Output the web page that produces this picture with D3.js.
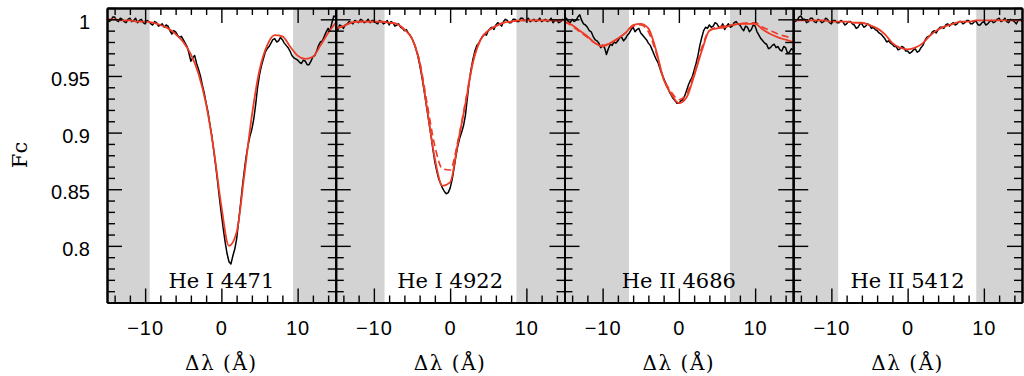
<!DOCTYPE html>
<html>
<head>
<meta charset="utf-8">
<script src="https://cdn.jsdelivr.net/npm/d3@7"></script>
<style>
  html, body { margin: 0; padding: 0; background: #fff; }
  svg { display: block; }
</style>
</head>
<body>
<svg id="chart" width="1024" height="376"></svg>
<script>
// ---------------- DATA ----------------
const panelNames = ["He I 4471", "He I 4922", "He II 4686", "He II 5412"];

// observed grid: -15 .. 15 step 0.25 Å
const obsGrid = [
  -15,-14.75,-14.5,-14.25,-14,-13.75,-13.5,-13.25,-13,-12.75,
  -12.5,-12.25,-12,-11.75,-11.5,-11.25,-11,-10.75,-10.5,-10.25,
  -10,-9.75,-9.5,-9.25,-9,-8.75,-8.5,-8.25,-8,-7.75,
  -7.5,-7.25,-7,-6.75,-6.5,-6.25,-6,-5.75,-5.5,-5.25,
  -5,-4.75,-4.5,-4.25,-4,-3.75,-3.5,-3.25,-3,-2.75,
  -2.5,-2.25,-2,-1.75,-1.5,-1.25,-1,-0.75,-0.5,-0.25,
  0,0.25,0.5,0.75,1,1.25,1.5,1.75,2,2.25,
  2.5,2.75,3,3.25,3.5,3.75,4,4.25,4.5,4.75,
  5,5.25,5.5,5.75,6,6.25,6.5,6.75,7,7.25,
  7.5,7.75,8,8.25,8.5,8.75,9,9.25,9.5,9.75,
  10,10.25,10.5,10.75,11,11.25,11.5,11.75,12,12.25,
  12.5,12.75,13,13.25,13.5,13.75,14,14.25,14.5,14.75,
  15];
// model grid: -15 .. 15 step 1 Å
const modGrid = [-15,-14,-13,-12,-11,-10,-9,-8,-7,-6,-5,-4,-3,-2,-1,0,1,2,3,4,5,6,7,8,9,10,11,12,13,14,15];

const obs4471 = [
  1.001,0.998,0.999,1.002,1.002,0.999,0.998,1.001,1.000,0.998,
  0.997,1.000,1.001,0.998,0.999,1.001,0.997,0.999,1.000,0.997,
  0.996,0.999,0.998,0.996,0.995,0.998,0.997,0.994,0.995,0.996,
  0.993,0.995,0.994,0.990,0.987,0.990,0.989,0.986,0.984,0.985,
  0.982,0.979,0.976,0.970,0.963,0.966,0.968,0.961,0.956,0.950,
  0.942,0.935,0.926,0.918,0.907,0.897,0.884,0.871,0.857,0.842,
  0.828,0.815,0.803,0.793,0.786,0.784,0.791,0.797,0.806,0.821,
  0.836,0.852,0.866,0.879,0.889,0.897,0.903,0.912,0.925,0.940,
  0.951,0.959,0.965,0.971,0.974,0.976,0.979,0.982,0.983,0.980,
  0.981,0.984,0.982,0.979,0.977,0.975,0.972,0.968,0.966,0.965,
  0.964,0.962,0.961,0.964,0.963,0.960,0.960,0.963,0.967,0.968,
  0.972,0.977,0.980,0.981,0.985,0.989,0.992,0.990,0.997,1.003,
  1.002];
const obs4922 = [
  0.993,0.990,0.995,0.994,0.992,0.995,0.996,0.998,0.997,0.996,
  0.999,0.998,0.997,1.000,0.999,0.997,0.998,1.000,0.997,0.999,
  0.999,0.997,0.996,0.999,0.998,0.996,0.997,0.999,0.995,0.998,
  0.997,0.994,0.995,0.996,0.993,0.992,0.990,0.991,0.988,0.986,
  0.983,0.979,0.974,0.968,0.960,0.951,0.941,0.930,0.919,0.908,
  0.897,0.885,0.874,0.866,0.859,0.855,0.851,0.848,0.846,0.847,
  0.851,0.858,0.868,0.879,0.888,0.895,0.900,0.906,0.915,0.930,
  0.945,0.956,0.965,0.972,0.977,0.979,0.982,0.985,0.987,0.986,
  0.990,0.992,0.993,0.991,0.995,0.997,0.996,0.994,0.998,1.000,
  0.999,0.997,0.997,1.000,1.000,0.998,0.998,1.001,1.001,0.999,
  0.999,1.001,0.998,0.999,1.000,0.998,0.999,1.001,0.998,0.999,
  1.000,0.998,0.999,1.001,0.997,0.999,0.999,0.997,0.998,1.000,
  0.999];
const obs4686 = [
  0.999,1.001,0.998,0.997,1.000,0.998,0.999,1.002,1.004,0.999,
  0.996,0.995,0.993,0.990,0.989,0.985,0.982,0.981,0.979,0.975,
  0.977,0.975,0.969,0.974,0.978,0.977,0.980,0.979,0.981,0.984,
  0.984,0.981,0.983,0.986,0.988,0.991,0.993,0.989,0.991,0.992,
  0.988,0.986,0.984,0.982,0.979,0.977,0.973,0.969,0.965,0.962,
  0.957,0.952,0.948,0.944,0.940,0.936,0.933,0.930,0.928,0.926,
  0.926,0.928,0.929,0.932,0.937,0.942,0.946,0.949,0.955,0.961,
  0.968,0.977,0.984,0.990,0.993,0.992,0.995,0.993,0.994,0.997,
  0.996,0.993,0.993,0.996,0.991,0.994,0.996,0.993,0.994,0.997,
  0.998,0.996,0.995,0.992,0.990,0.994,0.993,0.989,0.991,0.995,
  0.994,0.989,0.986,0.983,0.981,0.979,0.978,0.974,0.975,0.977,
  0.978,0.975,0.976,0.973,0.972,0.976,0.975,0.970,0.971,0.974,
  0.973];
const obs5412 = [
  1.002,0.998,0.999,1.002,1.003,1.000,1.000,0.997,0.998,1.001,
  1.001,0.998,0.997,1.000,0.999,0.997,0.998,1.001,1.000,0.997,
  0.996,0.999,0.999,0.997,0.997,0.999,0.998,0.995,0.996,0.998,
  0.998,0.996,0.995,0.992,0.993,0.996,0.996,0.993,0.994,0.996,
  0.995,0.992,0.993,0.991,0.990,0.988,0.987,0.985,0.983,0.980,
  0.981,0.979,0.978,0.976,0.976,0.973,0.974,0.976,0.975,0.972,
  0.972,0.970,0.971,0.973,0.974,0.971,0.972,0.975,0.977,0.981,
  0.984,0.985,0.986,0.989,0.990,0.988,0.991,0.993,0.993,0.992,
  0.995,0.996,0.994,0.996,0.997,0.995,0.996,0.998,0.998,0.996,
  0.997,0.999,0.999,0.996,0.996,0.998,0.998,0.995,0.995,0.997,
  0.998,0.995,0.996,0.998,0.999,0.997,0.998,1.000,1.001,0.998,
  0.999,1.001,0.998,0.997,1.000,0.999,0.998,0.996,0.999,1.000,
  0.998];

const mod4471 = [1.000,1.000,0.999,0.999,0.998,0.998,0.997,0.995,0.992,0.987,0.980,0.969,0.952,0.925,0.885,0.835,0.800,0.812,0.862,0.915,0.955,0.977,0.986,0.985,0.976,0.968,0.965,0.967,0.977,0.988,0.997];
const mod4922 = [0.992,0.994,0.997,0.998,0.998,0.998,0.998,0.997,0.996,0.991,0.983,0.962,0.920,0.877,0.853,0.856,0.890,0.925,0.962,0.982,0.990,0.994,0.997,0.998,0.999,0.999,0.999,0.999,0.999,0.999,0.999];
const mod4686 = [0.998,0.995,0.990,0.985,0.979,0.976,0.979,0.983,0.988,0.995,0.996,0.992,0.973,0.947,0.934,0.926,0.931,0.950,0.972,0.990,0.992,0.993,0.995,0.996,0.996,0.996,0.991,0.987,0.984,0.982,0.980];
const mod5412 = [0.999,0.999,0.999,0.999,0.999,0.998,0.998,0.998,0.997,0.997,0.995,0.992,0.987,0.979,0.975,0.9735,0.975,0.979,0.986,0.991,0.994,0.996,0.998,0.998,0.999,0.999,0.999,0.999,0.999,0.999,0.999];

// second (dashed) model, only differs for two lines
const alt4922 = [0.992,0.994,0.997,0.998,0.998,0.998,0.998,0.997,0.996,0.991,0.983,0.963,0.925,0.888,0.868,0.867,0.892,0.927,0.963,0.982,0.990,0.994,0.997,0.998,0.999,0.999,0.999,0.999,0.999,0.999,0.999];
const alt4686 = [0.998,0.994,0.989,0.984,0.979,0.977,0.979,0.983,0.988,0.994,0.995,0.989,0.971,0.948,0.936,0.929,0.934,0.952,0.975,0.990,0.993,0.994,0.995,0.996,0.997,0.997,0.993,0.990,0.987,0.985,0.983];

// shaded (excluded) regions: |Δλ| beyond these limits
const maskLo = [-9.4, -8.6, -6.55, -9.1];
const maskHi = [9.4, 8.7, 6.7, 9.0];

const xMajor = [-10, 0, 10];
const xMinor = [-14,-12,-8,-6,-4,-2,2,4,6,8,12,14];
const yMajor = [0.8, 0.85, 0.9, 0.95, 1];
const yMinor = [0.76,0.77,0.78,0.79,0.81,0.82,0.83,0.84,0.86,0.87,0.88,0.89,0.91,0.92,0.93,0.94,0.96,0.97,0.98,0.99,1.01];

const obsSeries = [obs4471, obs4922, obs4686, obs5412];
const modSeries = [mod4471, mod4922, mod4686, mod5412];
const altSeries = [null, alt4922, alt4686, null];

// ---------------- LAYOUT ----------------
const L = 107, R = 1022, T = 8, B = 302.5;
const pw = (R - L) / 4;
const svg = d3.select("#chart");
const y = d3.scaleLinear().domain([0.75, 1.01]).range([B, T]);

const RED = "#ef3b26";
const GRAY = "#d3d3d3";
const tickFont = "'Liberation Sans', Arial, sans-serif";
const serif = "'DejaVu Serif', serif";

const defs = svg.append("defs");

for (let i = 0; i < 4; i++) {
  const x0 = L + i * pw, x1 = x0 + pw;
  const x = d3.scaleLinear().domain([-15, 15]).range([x0, x1]);
  const g = svg.append("g");

  defs.append("clipPath").attr("id", "clip" + i)
    .append("rect").attr("x", x0).attr("y", T).attr("width", pw).attr("height", B - T);

  // shaded regions
  g.append("rect").attr("x", x(-15)).attr("y", T).attr("width", x(maskLo[i]) - x(-15)).attr("height", B - T).attr("fill", GRAY);
  g.append("rect").attr("x", x(maskHi[i])).attr("y", T).attr("width", x(15) - x(maskHi[i])).attr("height", B - T).attr("fill", GRAY);

  const plot = g.append("g").attr("clip-path", `url(#clip${i})`);

  const obsLine = d3.line().x((d, k) => x(obsGrid[k])).y(d => y(d));
  const modLine = d3.line().x((d, k) => x(modGrid[k])).y(d => y(d)).curve(d3.curveMonotoneX);

  plot.append("path").datum(obsSeries[i]).attr("d", obsLine)
    .attr("fill", "none").attr("stroke", "#000").attr("stroke-width", 1.5).attr("stroke-linejoin", "round");
  if (altSeries[i]) {
    plot.append("path").datum(altSeries[i]).attr("d", modLine)
      .attr("fill", "none").attr("stroke", RED).attr("stroke-width", 1.6).attr("stroke-dasharray", "7,4");
  }
  plot.append("path").datum(modSeries[i]).attr("d", modLine)
    .attr("fill", "none").attr("stroke", RED).attr("stroke-width", 1.8);

  // axes
  const styleAxis = sel => {
    sel.selectAll("path.domain").attr("stroke", "#000").attr("stroke-width", 2);
    sel.selectAll(".tick line").attr("stroke", "#000").attr("stroke-width", 1.4);
  };
  // bottom
  const bMaj = svg.append("g").attr("transform", `translate(0,${B})`)
    .call(d3.axisBottom(x).tickValues(xMajor).tickSize(-14).tickSizeOuter(0).tickPadding(18));
  bMaj.selectAll("text").attr("font-family", tickFont).attr("font-size", 20).attr("fill", "#000").attr("letter-spacing", "1px");
  styleAxis(bMaj);
  const bMin = svg.append("g").attr("transform", `translate(0,${B})`)
    .call(d3.axisBottom(x).tickValues(xMinor).tickSize(-7).tickSizeOuter(0).tickFormat(""));
  styleAxis(bMin);
  // top
  const tMaj = svg.append("g").attr("transform", `translate(0,${T})`)
    .call(d3.axisTop(x).tickValues(xMajor).tickSize(-15).tickSizeOuter(0).tickFormat(""));
  styleAxis(tMaj);
  const tMin = svg.append("g").attr("transform", `translate(0,${T})`)
    .call(d3.axisTop(x).tickValues(xMinor).tickSize(-7).tickSizeOuter(0).tickFormat(""));
  styleAxis(tMin);
  // left
  const lMaj = svg.append("g").attr("transform", `translate(${x0},0)`)
    .call(d3.axisLeft(y).tickValues(yMajor).tickSize(-15).tickSizeOuter(0).tickPadding(17)
      .tickFormat(i === 0 ? (d => String(d)) : ""));
  lMaj.selectAll("text").attr("font-family", tickFont).attr("font-size", 20).attr("fill", "#000").attr("dy", "0.48em");
  styleAxis(lMaj);
  const lMin = svg.append("g").attr("transform", `translate(${x0},0)`)
    .call(d3.axisLeft(y).tickValues(yMinor).tickSize(-8).tickSizeOuter(0).tickFormat(""));
  styleAxis(lMin);
  // right
  const rMaj = svg.append("g").attr("transform", `translate(${x1},0)`)
    .call(d3.axisRight(y).tickValues(yMajor).tickSize(-15).tickSizeOuter(0).tickFormat(""));
  styleAxis(rMaj);
  const rMin = svg.append("g").attr("transform", `translate(${x1},0)`)
    .call(d3.axisRight(y).tickValues(yMinor).tickSize(-8).tickSizeOuter(0).tickFormat(""));
  styleAxis(rMin);

  // panel label
  svg.append("text").attr("x", x(0)).attr("y", 288).attr("text-anchor", "middle")
    .attr("font-family", serif).attr("font-size", 21).attr("fill", "#000")
    .text(panelNames[i]);

  // x axis title
  svg.append("text").attr("x", x(0)).attr("y", 370).attr("text-anchor", "middle")
    .attr("font-family", serif).attr("font-size", 20).attr("letter-spacing", "1.5px").attr("fill", "#000")
    .text("Δλ (Å)");
}

// y axis title
svg.append("text").attr("transform", "translate(27,155) rotate(-90)")
  .attr("text-anchor", "middle").attr("font-family", serif).attr("font-size", 21).attr("fill", "#000")
  .text("Fc");
</script>
</body>
</html>
